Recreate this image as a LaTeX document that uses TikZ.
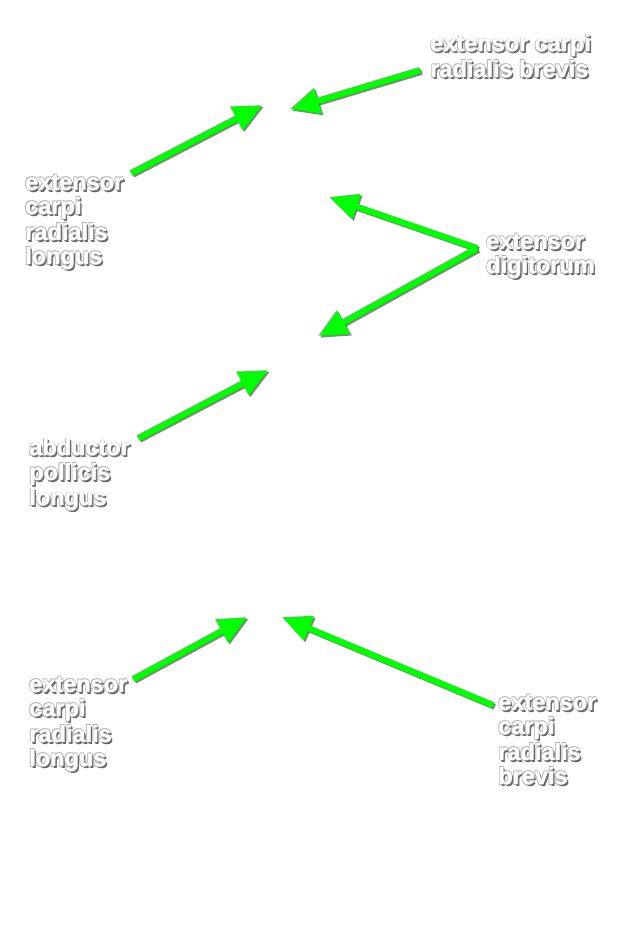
\documentclass[tikz,border=0pt]{standalone}
\usepackage{fontspec}
\setmainfont{Liberation Sans}
\usetikzlibrary{arrows.meta}
\definecolor{lime}{RGB}{0,255,0}
\newcommand\shtxt[1]{%
\makebox[0pt][l]{\color{black!60}\hspace{2bp}\raisebox{-2bp}{#1}}%
\makebox[0pt][l]{\color{black!55}\hspace{1.2bp}\raisebox{-1.2bp}{#1}}%
\makebox[0pt][l]{\color{black!30}\hspace{-0.7bp}\raisebox{0.7bp}{#1}}%
\makebox[0pt][l]{\color{black!30}\hspace{0.7bp}\raisebox{0.7bp}{#1}}%
\makebox[0pt][l]{\color{black!30}\hspace{-0.7bp}\raisebox{-0.7bp}{#1}}%
\makebox[0pt][l]{\color{white}\hspace{0.4bp}{#1}}%
{\color{white}#1}}
\tikzset{
  lbl/.style={anchor=north west, inner sep=0pt, align=left, text=white,
    font=\fontsize{23.5bp}{24.3bp}\selectfont\bfseries},
  garrow/.style={draw=lime, line width=6bp, line cap=butt,
    -{Triangle[length=29bp,width=25bp]}},
  sarrow/.style={draw=black!60, line width=6bp, line cap=butt,
    -{Triangle[length=29bp,width=25bp]}, opacity=0.8}
}
\newcommand\garr[2]{%
  \draw[sarrow, transform canvas={shift={(1.8bp,-1.8bp)}}] (#1) -- (#2);
  \draw[garrow] (#1) -- (#2);}
\begin{document}
\begin{tikzpicture}[x=1bp,y=-1bp]
\useasboundingbox[fill=white] (0,0) rectangle (631,950);
% labels
\node[lbl] (ecrb1) at (430,34) {\shtxt{extensor carpi}\\\shtxt{radialis brevis}};
\node[lbl] (ecrl1) at (25,174) {\shtxt{extensor}\\\shtxt{carpi}\\\shtxt{radialis}\\\shtxt{longus}};
\node[lbl] (ed) at (486,233) {\shtxt{extensor}\\\shtxt{digitorum}};
\node[lbl] (apl) at (29,438) {\shtxt{abductor}\\\shtxt{pollicis}\\\shtxt{longus}};
\node[lbl] (ecrl2) at (29,676) {\shtxt{extensor}\\\shtxt{carpi}\\\shtxt{radialis}\\\shtxt{longus}};
\node[lbl] (ecrb2) at (498,694) {\shtxt{extensor}\\\shtxt{carpi}\\\shtxt{radialis}\\\shtxt{brevis}};
% arrow ends
\coordinate (t1) at (131,173);  \coordinate (h1) at (262,105);
\coordinate (t2) at (420,70);   \coordinate (h2) at (290,109);
\coordinate (t3) at (477,248);  \coordinate (h3a) at (329,197); \coordinate (h3b) at (318,336);
\coordinate (t4) at (138,438);  \coordinate (h4) at (268,370);
\coordinate (t5) at (133,679);  \coordinate (h5) at (247,617);
\coordinate (t6) at (493,705);  \coordinate (h6) at (282,617);
\garr{t1}{h1}
\garr{t2}{h2}
\garr{t3}{h3a}
\garr{t3}{h3b}
\garr{t4}{h4}
\garr{t5}{h5}
\garr{t6}{h6}
\end{tikzpicture}
\end{document}
